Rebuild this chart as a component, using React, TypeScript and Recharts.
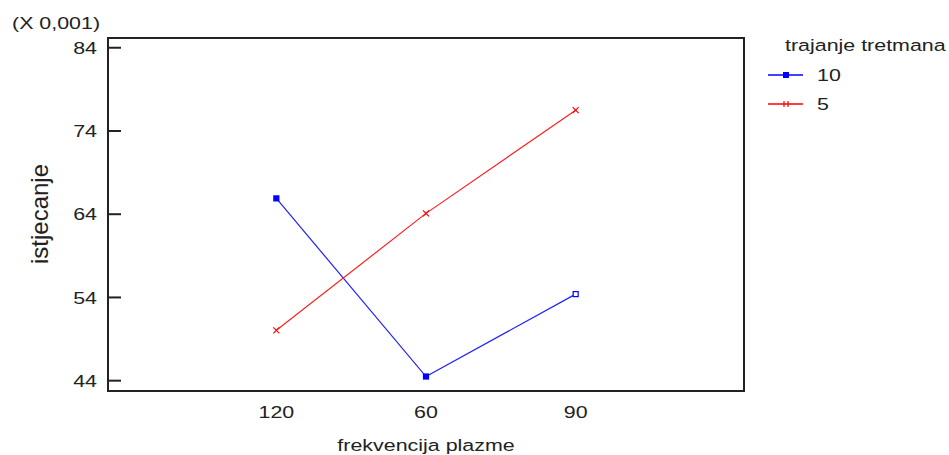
import React from 'react';
import { LineChart, Line, XAxis, YAxis, ReferenceArea } from 'recharts';

const categories = ['120', '60', '90'];
const series10 = [65.9, 44.5, 54.4];
const series5 = [50.05, 64.1, 76.5];
const yTicks = [44, 54, 64, 74, 84];

const FONT = '"Liberation Sans", Arial, sans-serif';
const INK = '#222';
const STRETCH = 1.26;
const X_DOMAIN: [number, number] = [-1.125, 3.125];
const Y_DOMAIN: [number, number] = [42.76, 85.17];

const data = categories.map((label, i) => ({
  i,
  label,
  b: series10[i],
  r: series5[i],
}));

function WideText({ x, y, anchor, children }: { x: number; y: number; anchor: 'start' | 'middle' | 'end'; children: React.ReactNode }) {
  return (
    <g transform={`translate(${x},${y}) scale(${STRETCH},1)`}>
      <text x={0} y={0} dy="0.36em" textAnchor={anchor} fontFamily={FONT} fontSize={17} fill={INK}>
        {children}
      </text>
    </g>
  );
}

function LeftTick(props: any) {
  const { x, y, payload } = props;
  return (
    <g>
      <line x1={x} x2={x + 13} y1={y} y2={y} stroke={INK} strokeWidth={2} />
      <WideText x={x - 11} y={y} anchor="end">{payload.value}</WideText>
    </g>
  );
}

function RightTick(props: any) {
  const { x, y } = props;
  return <line x1={x - 12} x2={x} y1={y} y2={y} stroke={INK} strokeWidth={2} />;
}

function BottomTick(props: any) {
  const { x, y, payload } = props;
  return <WideText x={x} y={y + 21} anchor="middle">{categories[payload.value]}</WideText>;
}

function SquareDot(props: any) {
  const { cx, cy, index } = props;
  if (cx == null || cy == null) return null;
  const hollow = index === series10.length - 1;
  return (
    <rect
      x={cx - 2.5}
      y={cy - 2.5}
      width={5}
      height={5}
      fill={hollow ? '#fff' : '#0000ff'}
      stroke="#0000ff"
      strokeWidth={1.2}
    />
  );
}

function CrossDot(props: any) {
  const { cx, cy } = props;
  if (cx == null || cy == null) return null;
  return (
    <g stroke="#ff0000" strokeWidth={1.2}>
      <line x1={cx - 3} y1={cy - 3} x2={cx + 3} y2={cy + 3} />
      <line x1={cx - 3} y1={cy + 3} x2={cx + 3} y2={cy - 3} />
    </g>
  );
}

function LegendBox() {
  return (
    <g transform="translate(760,30)">
      <WideText x={25} y={15} anchor="start">trajanje tretmana</WideText>
      <line x1={8} x2={43} y1={45} y2={45} stroke="#0000ff" strokeWidth={1.5} />
      <rect x={23} y={42} width={6} height={6} fill="#0000ff" />
      <WideText x={57} y={45} anchor="start">10</WideText>
      <line x1={8} x2={43} y1={74} y2={74} stroke="#ff0000" strokeWidth={1.5} />
      <line x1={24} x2={24} y1={71} y2={77} stroke="#ff0000" strokeWidth={1.2} />
      <line x1={28} x2={28} y1={71} y2={77} stroke="#ff0000" strokeWidth={1.2} />
      <WideText x={57} y={74} anchor="start">5</WideText>
    </g>
  );
}

export default function App() {
  return (
    <div style={{ position: 'absolute', left: 0, top: 0, width: 949, height: 455, background: '#fff' }}>
      <LineChart width={949} height={455} data={data} margin={{ top: 38, right: 0, bottom: 0, left: 0 }}>
        <XAxis
          dataKey="i"
          type="number"
          domain={X_DOMAIN}
          ticks={[0, 1, 2]}
          height={64}
          axisLine={false}
          tickLine={false}
          tickSize={0}
          tickMargin={0}
          tick={<BottomTick />}
          interval={0}
        />
        <YAxis
          yAxisId="left"
          type="number"
          domain={Y_DOMAIN}
          ticks={yTicks}
          width={108}
          axisLine={false}
          tickLine={false}
          tickSize={0}
          tickMargin={0}
          tick={<LeftTick />}
          interval={0}
        />
        <YAxis
          yAxisId="right"
          orientation="right"
          type="number"
          domain={Y_DOMAIN}
          ticks={yTicks}
          width={205}
          axisLine={false}
          tickLine={false}
          tickSize={0}
          tickMargin={0}
          tick={<RightTick />}
          interval={0}
        />
        <ReferenceArea
          yAxisId="left"
          x1={X_DOMAIN[0]}
          x2={X_DOMAIN[1]}
          y1={Y_DOMAIN[0]}
          y2={Y_DOMAIN[1]}
          fill="none"
          fillOpacity={0}
          stroke={INK}
          strokeWidth={2}
          ifOverflow="visible"
        />
        <Line
          yAxisId="left"
          dataKey="b"
          name="10"
          stroke="#2020ff"
          strokeWidth={1.2}
          dot={<SquareDot />}
          activeDot={false}
          isAnimationActive={false}
        />
        <Line
          yAxisId="left"
          dataKey="r"
          name="5"
          stroke="#ff2020"
          strokeWidth={1.2}
          dot={<CrossDot />}
          activeDot={false}
          isAnimationActive={false}
        />
      </LineChart>
      <svg width={949} height={455} style={{ position: 'absolute', left: 0, top: 0, pointerEvents: 'none' }}>
        <LegendBox />
        <WideText x={12} y={23} anchor="start">(X 0,001)</WideText>
        <WideText x={426} y={445} anchor="middle">frekvencija plazme</WideText>
        <g transform="translate(39,214) rotate(-90)">
          <text x={0} y={0} dy="0.36em" textAnchor="middle" fontFamily={FONT} fontSize={24} fill={INK}>
            istjecanje
          </text>
        </g>
      </svg>
    </div>
  );
}
